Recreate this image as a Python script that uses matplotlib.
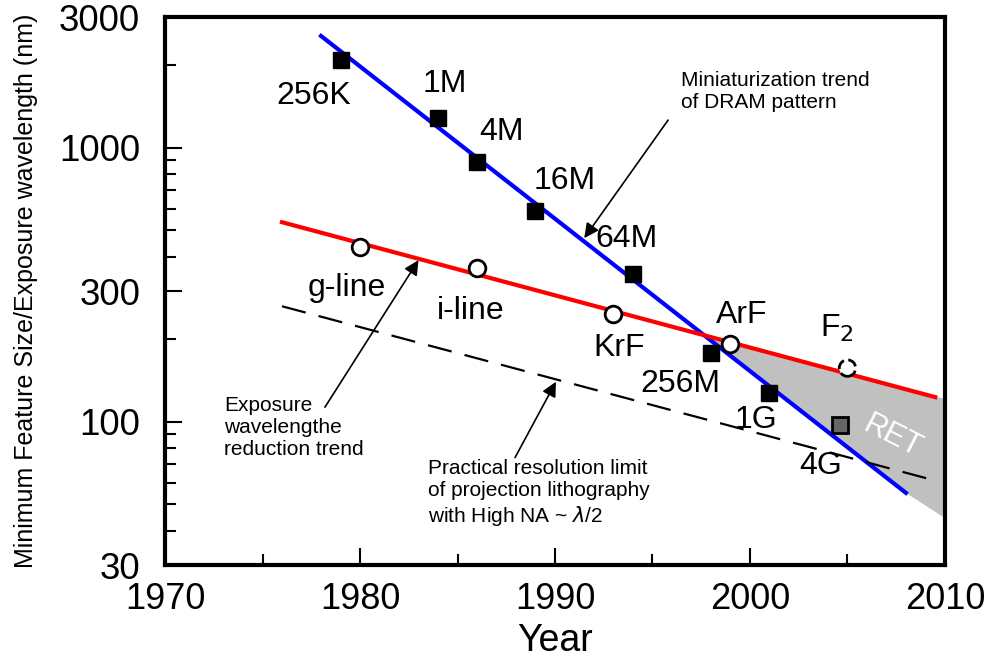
import numpy as np
import matplotlib
matplotlib.use('Agg')
import matplotlib.pyplot as plt

plt.rcParams['font.family'] = ['Liberation Sans', 'DejaVu Sans']

# DRAM generations (minimum feature size, nm)
dram_labels = ['256K', '1M', '4M', '16M', '64M', '256M', '1G', '4G']
dram_years = [1979, 1984, 1986, 1989, 1994, 1998, 2001, 2004.6]
dram_sizes = [2100, 1280, 890, 590, 345, 178, 127, 97]

# exposure wavelengths (nm)
wl_labels = ['g-line', 'i-line', 'KrF', 'ArF', 'F$_2$']
wl_years = [1980, 1986, 1993, 1999, 2005]
wl_values = [436, 365, 248, 193, 157]

# trend lines
dram_trend_years = [1978, 2008]
dram_trend_vals = [2560, 55]
wl_trend_years = [1976, 2009.5]
wl_trend_vals = [535, 123]
limit_years = [1976, 2009.5]
limit_vals = [264, 61]

# RET region
ret_years = [1997.6, 2010, 2010, 2008]
ret_vals = [208, 121, 44.5, 55]

fig = plt.figure(figsize=(9.9, 6.57), dpi=100)
ax = fig.add_axes([0.1667, 0.140, 0.7878, 0.834])

ax.fill(ret_years, ret_vals, color='#c0c0c0', lw=0, zorder=1)
ax.text(2007.3, 88, 'RET', color='white', fontsize=22, rotation=-27,
        ha='center', va='center', zorder=2)

ax.plot(dram_trend_years, dram_trend_vals, color='#0000ff', lw=3, zorder=3)
ax.plot(wl_trend_years, wl_trend_vals, color='#ff0000', lw=3, zorder=3)
ax.plot(limit_years, limit_vals, color='k', lw=1.6, ls=(0, (11, 6)), zorder=3)

# DRAM squares (last one grey)
ax.plot(dram_years[:-1], dram_sizes[:-1], 's', color='k', ms=11.5, zorder=5)
ax.plot(dram_years[-1:], dram_sizes[-1:], 's', mfc='#666666', mec='k', mew=2, ms=11, zorder=5)

# wavelength circles (F2 dashed)
ax.plot(wl_years[:-1], wl_values[:-1], 'o', mfc='white', mec='k', mew=2, ms=12, zorder=5)
ax.scatter(wl_years[-1:], wl_values[-1:], s=140, facecolors='white', edgecolors='k',
           linewidths=2, linestyles='--', zorder=5)

dram_off = [(-27, -36), (7, 34), (24, 30), (29, 30), (-6, 35), (-31, -31), (-14, -27), (-19, -41)]
for lab, x, y, off in zip(dram_labels, dram_years, dram_sizes, dram_off):
    ax.annotate(lab, (x, y), xytext=off, textcoords='offset pixels',
                ha='center', va='center', fontsize=23, zorder=6)

wl_off = [(-13, -41), (-6, -43), (6, -34), (11, 29), (-11, 40)]
for lab, x, y, off in zip(wl_labels, wl_years, wl_values, wl_off):
    ax.annotate(lab, (x, y), xytext=off, textcoords='offset pixels',
                ha='center', va='center', fontsize=23, zorder=6)

arrow = dict(arrowstyle='-|>', color='k', lw=1.2, mutation_scale=22, shrinkA=0, shrinkB=0)
ax.annotate('', xy=(1991.5, 468), xytext=(1995.8, 1262), arrowprops=arrow)
ax.annotate('', xy=(1983.0, 389), xytext=(1978.2, 113), arrowprops=arrow)
ax.annotate('', xy=(1990.05, 140), xytext=(1987.95, 74), arrowprops=arrow)

fig.text(681 / 990, 1 - 71 / 657, 'Miniaturization trend\nof DRAM pattern',
         fontsize=15, ha='left', va='top', linespacing=1.2)
fig.text(224 / 990, 1 - 396 / 657, 'Exposure\nwavelengthe\nreduction trend',
         fontsize=15, ha='left', va='top', linespacing=1.2)
fig.text(428 / 990, 1 - 459 / 657,
         'Practical resolution limit\nof projection lithography\nwith High NA ~ $\\lambda$/2',
         fontsize=15, ha='left', va='top', linespacing=1.2)

ax.set_yscale('log')
ax.set_xlim(1970, 2010)
ax.set_ylim(30, 3000)
ax.set_xticks([1970, 1980, 1990, 2000, 2010])
ax.set_xticks([1975, 1985, 1995, 2005], minor=True)
ax.set_yticks([30, 100, 300, 1000, 3000])
ax.set_yticklabels(['30', '100', '300', '1000', '3000'])
ax.set_yticks([40, 50, 60, 70, 80, 90, 200, 400, 500, 600, 700, 800, 900, 2000], minor=True)
ax.yaxis.set_minor_formatter(matplotlib.ticker.NullFormatter())

ax.tick_params(axis='both', which='both', direction='in', top=False, right=False, width=1.5)
ax.tick_params(axis='both', which='major', length=12)
ax.tick_params(axis='both', which='minor', length=8)
ax.tick_params(axis='y', labelsize=26.5, pad=18)
ax.tick_params(axis='x', labelsize=26, pad=12)

for s in ax.spines.values():
    s.set_linewidth(3)

ax.set_ylabel('Minimum Feature Size/Exposure wavelength (nm)', fontsize=18)
ax.yaxis.set_label_coords(-0.163, 0.5)
ax.set_xlabel('Year', fontsize=27)
ax.xaxis.set_label_coords(0.5, -0.105)

fig.savefig('out.png', dpi=100)
